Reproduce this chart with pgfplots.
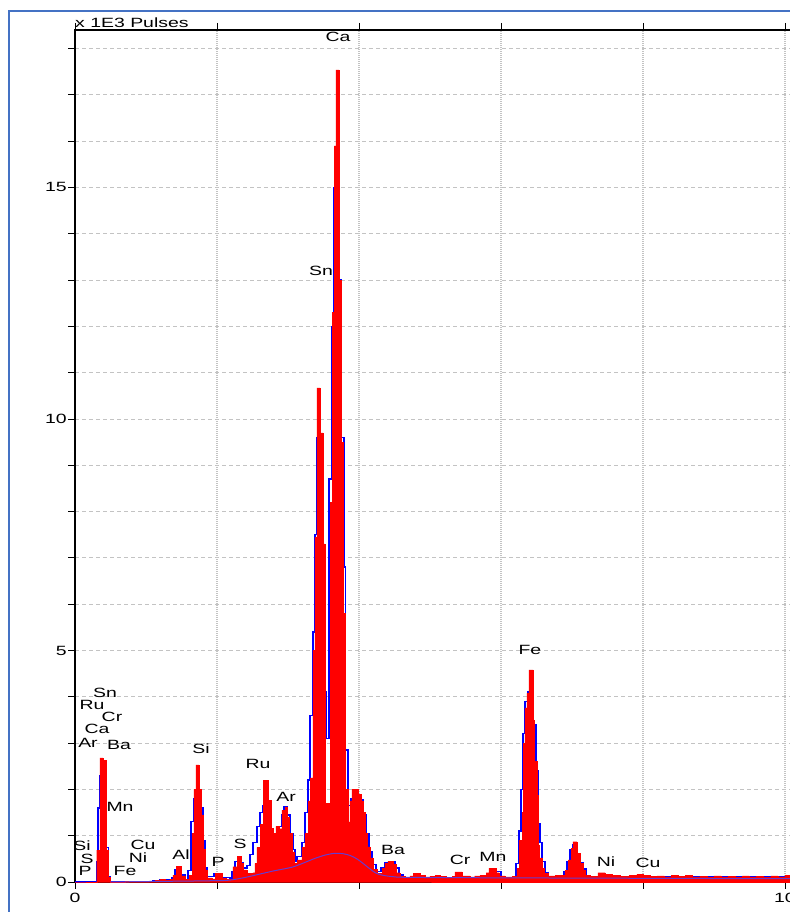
\documentclass[border=0pt]{standalone}
\usepackage{fontspec}
\setmainfont{Liberation Sans}[FakeStretch=1.45]
\usepackage{pgfplots}
\pgfplotsset{compat=1.18}
\definecolor{frameblue}{RGB}{68,114,196}
\definecolor{gridgray}{RGB}{195,195,195}
\definecolor{bgline}{RGB}{100,60,210}
\newcommand{\lbl}{\fontsize{13.4bp}{15bp}\selectfont}

\begin{document}
\begin{tikzpicture}
\path[use as bounding box, clip] (0,0) rectangle (790bp,912bp);
\fill[white] (0,0) rectangle (790bp,912bp);
\begin{axis}[
  name=ax,
  at={(75bp,30bp)}, anchor=south west,
  scale only axis, width=720bp, height=852bp,
  xmin=0, xmax=10.141, ymin=0, ymax=18.4,
  axis line style={black, line width=1.4bp},
  tick align=outside,
  major tick length=7bp,
  tick style={black, line width=0.8bp},
  xtick={0,2,4,6,8,10}, xticklabels={0,,,,,10},
  ytick={0,1,...,18},
  yticklabels={0,,,,,5,,,,,10,,,,,15,,,},
  xmajorgrids, ymajorgrids,
  x grid style={gridgray, line width=1.6bp, dash pattern=on 1bp off 1bp},
  y grid style={gridgray, line width=0.8bp, dash pattern=on 4bp off 3bp},
  ticklabel style={font=\lbl, inner sep=0pt},
  /pgf/number format/assume math mode=true,
  yticklabel style={xshift=-1bp},
  xticklabel style={yshift=-4bp},
  clip=false,
]
% second spectrum (outline)
\addplot[const plot, blue, line width=1.3bp] coordinates {
(0,0) (0.290,0) (0.306,0.45) (0.324,1.6) (0.352,2.3) (0.437,0.75) (0.469,0.12)
(0.50,0.01) (1.10,0.02) (1.197,0.04) (1.366,0.10) (1.409,0.26) (1.493,0.15)
(1.549,0.06) (1.592,0.25) (1.634,1.30) (1.676,1.80) (1.704,2.00) (1.760,1.60)
(1.803,0.90) (1.831,0.30) (1.859,0.12) (1.958,0.17) (2.070,0.10) (2.183,0.08)
(2.211,0.22) (2.254,0.45) (2.324,0.42) (2.366,0.30) (2.423,0.35) (2.465,0.60)
(2.507,0.85) (2.563,1.20) (2.606,1.50) (2.648,1.64) (2.704,1.50) (2.761,0.95)
(2.789,0.76) (2.831,0.90) (2.873,1.20) (2.915,1.45) (2.944,1.62) (2.986,1.45)
(3.028,1.05) (3.070,0.70) (3.099,0.45) (3.127,0.55) (3.197,0.85) (3.239,1.50)
(3.282,2.20) (3.310,3.60) (3.352,5.40) (3.380,7.50) (3.408,9.60) (3.451,9.00)
(3.493,4.10) (3.535,3.10) (3.577,8.70) (3.620,12.00) (3.648,15.00) (3.676,15.00)
(3.718,13.00) (3.746,9.60) (3.789,6.80) (3.810,2.85) (3.845,1.65) (3.887,1.80)
(4.000,1.78) (4.056,1.45) (4.099,1.05) (4.141,0.65) (4.183,0.38) (4.240,0.22)
(4.310,0.30) (4.366,0.42) (4.451,0.43) (4.507,0.30) (4.563,0.15) (4.620,0.10)
(5.80,0.12) (5.90,0.22) (6.000,0.10) (6.211,0.40) (6.254,1.10) (6.282,2.00)
(6.310,3.20) (6.338,3.90) (6.380,4.10) (6.422,4.00) (6.458,3.40) (6.493,2.40)
(6.521,1.25) (6.549,0.85) (6.577,0.45) (6.620,0.20) (6.662,0.10) (6.887,0.22)
(6.930,0.45) (6.972,0.70) (7.014,0.80) (7.070,0.60) (7.113,0.42) (7.155,0.28)
(7.197,0.12) (10.141,0.10)
};
% main spectrum (filled)
\addplot[const plot, draw=red, fill=red, line width=0.4bp] coordinates {
(0,0) (0.306,0.69) (0.352,2.68) (0.394,2.62) (0.437,0.69) (0.469,0.10) (0.493,0)
(0.704,0.01) (0.90,0.02) (1.127,0.03) (1.197,0.06) (1.268,0.03) (1.338,0.05)
(1.380,0.15) (1.423,0.34) (1.493,0.13) (1.549,0.06) (1.606,0.15) (1.648,1.05)
(1.676,2.0) (1.704,2.53) (1.746,2.0) (1.775,1.45) (1.803,0.7) (1.831,0.25)
(1.859,0.09) (1.930,0.07) (1.972,0.19) (2.070,0.08) (2.127,0.06) (2.183,0.05)
(2.225,0.33) (2.282,0.56) (2.338,0.40) (2.366,0.26) (2.423,0.19) (2.507,0.20)
(2.535,0.40) (2.563,0.75) (2.606,1.25) (2.648,2.2) (2.718,1.77) (2.761,1.16)
(2.789,1.05) (2.831,1.2) (2.873,1.15) (2.915,1.55) (2.958,1.62) (2.986,1.4)
(3.014,1.05) (3.056,0.65) (3.085,0.40) (3.127,0.48) (3.197,0.75) (3.239,1.05)
(3.282,1.75) (3.310,2.25) (3.352,5.0) (3.380,7.45) (3.408,10.67) (3.451,9.7)
(3.493,7.3) (3.521,1.7) (3.592,8.2) (3.620,12.3) (3.648,15.9) (3.676,17.54)
(3.718,13.0) (3.746,9.5) (3.775,5.8) (3.803,2.0) (3.845,1.3) (3.873,1.75)
(3.901,2.0) (3.986,1.9) (4.028,1.75) (4.056,1.5) (4.085,1.06) (4.113,0.76)
(4.155,0.52) (4.197,0.27) (4.254,0.19) (4.324,0.30) (4.366,0.40) (4.408,0.45)
(4.479,0.38) (4.521,0.20) (4.577,0.12) (4.65,0.10) (4.718,0.13) (4.761,0.19)
(4.859,0.14) (4.93,0.11) (5.000,0.12) (5.07,0.14) (5.141,0.12) (5.23,0.10)
(5.310,0.12) (5.352,0.22) (5.451,0.13) (5.563,0.11) (5.63,0.13) (5.704,0.14)
(5.789,0.20) (5.831,0.30) (5.930,0.20) (5.972,0.13) (6.056,0.11) (6.155,0.12)
(6.225,0.30) (6.254,0.90) (6.296,1.50) (6.310,3.00) (6.338,3.76) (6.366,4.08)
(6.394,4.58) (6.451,3.50) (6.465,2.60) (6.507,1.88) (6.521,0.80) (6.535,0.52)
(6.577,0.30) (6.606,0.19) (6.662,0.13) (6.761,0.15) (6.85,0.14) (6.901,0.25)
(6.944,0.48) (6.986,0.73) (7.014,0.87) (7.070,0.62) (7.113,0.41) (7.155,0.25)
(7.183,0.15) (7.254,0.12) (7.366,0.20) (7.465,0.17) (7.563,0.14) (7.676,0.12)
(7.80,0.14) (7.915,0.17) (8.00,0.15) (8.10,0.12) (8.20,0.13) (8.30,0.11)
(8.40,0.14) (8.50,0.12) (8.60,0.15) (8.70,0.11) (8.80,0.12) (8.90,0.10)
(9.00,0.13) (9.10,0.11) (9.20,0.12) (9.30,0.10) (9.40,0.13) (9.50,0.11)
(9.60,0.12) (9.70,0.10) (9.80,0.13) (9.90,0.11) (10.00,0.14) (10.141,0.14)
} \closedcycle;
% background
\addplot[smooth, bgline, line width=1bp] coordinates {
(0.50,0.0) (1.0,0.01) (1.6,0.02) (2.0,0.03) (2.18,0.04) (2.4,0.10) (2.6,0.17)
(2.8,0.24) (3.0,0.30) (3.1,0.34) (3.25,0.43) (3.38,0.51) (3.52,0.58) (3.66,0.62)
(3.78,0.61) (3.88,0.57) (3.97,0.50) (4.05,0.41) (4.14,0.30) (4.23,0.20)
(4.32,0.15) (4.45,0.12) (4.7,0.10) (6.0,0.09) (8.0,0.08) (10.141,0.07)
};
% element labels
\begin{scope}[every node/.style={font=\lbl, inner sep=0pt}]
\node at (axis cs:3.704,18.25) {Ca};
\node at (axis cs:3.465,13.20) {Sn};
\node at (axis cs:6.408,5.01) {Fe};
\node at (axis cs:1.775,2.87) {Si};
\node at (axis cs:2.577,2.55) {Ru};
\node at (axis cs:2.972,1.84) {Ar};
\node at (axis cs:2.324,0.82) {S};
\node at (axis cs:1.493,0.58) {Al};
\node at (axis cs:2.014,0.43) {P};
\node at (axis cs:4.479,0.69) {Ba};
\node at (axis cs:5.423,0.48) {Cr};
\node at (axis cs:5.887,0.54) {Mn};
\node at (axis cs:7.479,0.45) {Ni};
\node at (axis cs:8.070,0.41) {Cu};
\node at (axis cs:0.423,4.08) {Sn};
\node at (axis cs:0.239,3.82) {Ru};
\node at (axis cs:0.521,3.56) {Cr};
\node at (axis cs:0.310,3.30) {Ca};
\node at (axis cs:0.183,3.00) {Ar};
\node at (axis cs:0.620,2.96) {Ba};
\node at (axis cs:0.634,1.62) {Mn};
\node at (axis cs:0.099,0.78) {Si};
\node at (axis cs:0.169,0.50) {S};
\node at (axis cs:0.141,0.24) {P};
\node at (axis cs:0.958,0.80) {Cu};
\node at (axis cs:0.887,0.52) {Ni};
\node at (axis cs:0.704,0.24) {Fe};
\end{scope}
\end{axis}
\node[font=\lbl, anchor=base west, inner sep=0pt, yshift=2.5bp] at (ax.north west) {x 1E3 Pulses};
\draw[frameblue, line width=2.4bp] (9.2bp,-10bp) rectangle (800bp,901bp);
\end{tikzpicture}
\end{document}
